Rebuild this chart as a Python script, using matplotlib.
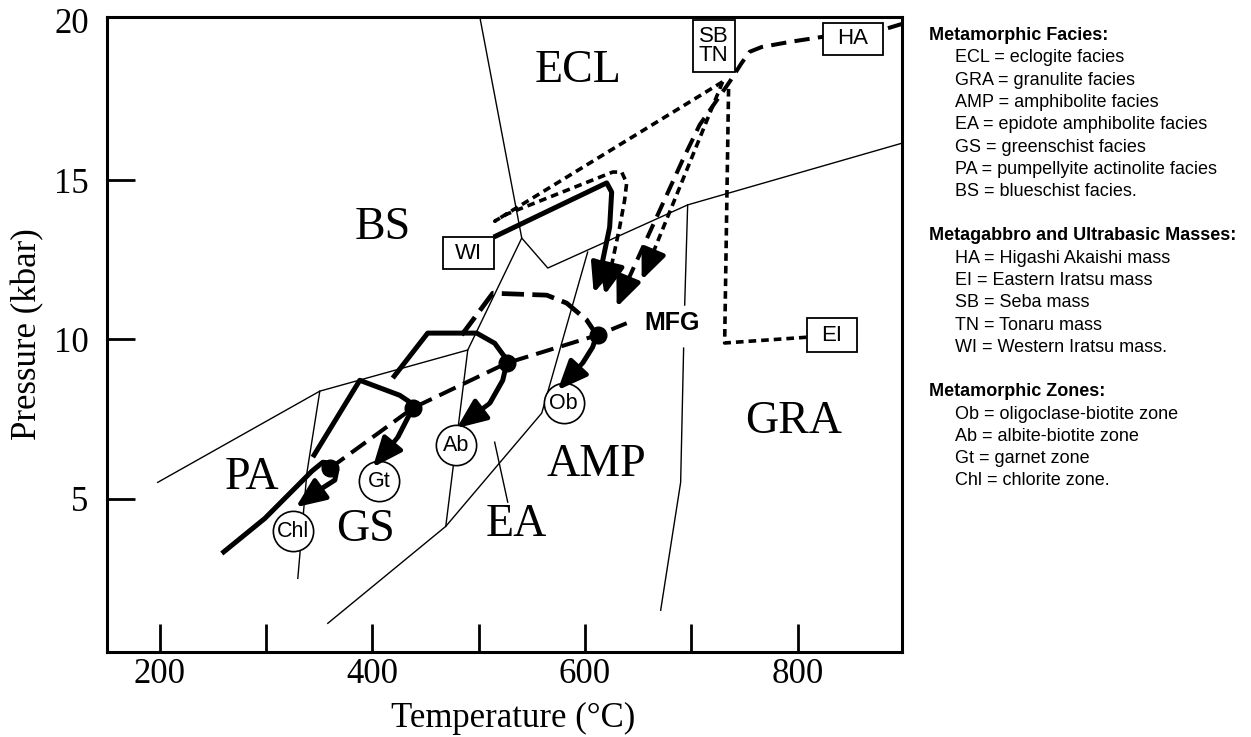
import matplotlib
matplotlib.use("Agg")
import matplotlib.pyplot as plt
from matplotlib.patches import Rectangle

plt.rcParams["lines.scale_dashes"] = False
SERIF = "Liberation Serif"
SANS = "Liberation Sans"

##### Facies boundaries (T in degC, P in kbar)
bnd_a_T = [198, 350.5, 489.7, 540.5, 501]
bnd_a_P = [5.52, 8.38, 9.67, 13.18, 20.12]
bnd_b_T = [540.5, 565, 696.6, 898.8]
bnd_b_P = [13.18, 12.24, 14.22, 16.16]
bnd_c_T = [350.5, 338.3, 329.8]
bnd_c_P = [8.38, 5.81, 2.51]
bnd_d_T = [489.7, 469, 358]
bnd_d_P = [9.67, 4.14, 1.10]
bnd_e_T = [602.5, 559.3, 469]
bnd_e_P = [12.74, 7.69, 4.14]
bnd_f1_T = [696.6, 693.8]
bnd_f1_P = [14.22, 11.08]
bnd_f2_T = [692.8, 690, 671.2]
bnd_f2_P = [9.73, 5.52, 1.51]
ea_ptr_T = [515, 527.3]
ea_ptr_P = [6.78, 4.90]

facies_names = ["ECL", "BS", "PA", "GS", "EA", "AMP", "GRA"]
facies_T = [593.1, 409.7, 286.5, 393.7, 535.8, 611, 796.3]
facies_P = [18.42, 13.49, 5.68, 4.02, 4.20, 6.06, 7.41]

##### P-T paths
chl_T = [258.3, 298.8, 331.7, 343, 353.3, 361.8, 366.5, 364.6, 352.4, 327.9]
chl_P = [3.29, 4.39, 5.49, 5.87, 6.15, 6.12, 5.90, 5.59, 5.33, 4.74]
gt_T = [343.9, 388.1, 425.7, 434.2, 438, 423.8, 400.3]
gt_P = [6.31, 8.72, 8.25, 8.06, 7.85, 6.93, 5.99]
ab_T = [419.1, 452, 498.1, 515.1, 524.5, 526.4, 522.6, 510.4, 479.3]
ab_P = [8.79, 10.20, 10.20, 9.88, 9.45, 9.26, 8.72, 8.00, 7.22]
ob_dash_T = [484, 513.2, 564, 582.8, 601.6, 611]
ob_dash_P = [10.14, 11.45, 11.39, 11.14, 10.61, 10.14]
ob_T = [611, 607.2, 597.8, 574.3]
ob_P = [10.14, 9.76, 9.26, 8.41]
wi_T = [514.1, 620.4, 625.1, 623.2, 613.8, 608.2]
wi_P = [13.21, 14.91, 14.62, 13.52, 12.02, 11.45]
sbtn_a_T = [729.5, 515.1, 526.4, 626.1, 634.5, 639.2, 637.3, 632.6, 624.1, 618.5]
sbtn_a_P = [18.08, 13.71, 13.93, 15.25, 15.25, 14.91, 14.37, 13.52, 12.18, 11.39]
sbtn_b_T = [729.5, 662.7, 653.3]
sbtn_b_P = [18.08, 12.61, 11.86]
ha_T = [898.8, 880, 823.6, 792.5, 766.2, 754.9, 747.4, 736.1, 707.9, 691.9, 639.2, 629.8]
ha_P = [19.90, 19.71, 19.49, 19.33, 19.17, 19.02, 18.67, 18.08, 16.73, 15.63, 11.77, 11.01]
ei_T = [808.5, 731.4, 735.1]
ei_P = [10.07, 9.89, 17.89]

mfg_T = [359.9, 438, 526.4, 612, 639.2]
mfg_P = [5.96, 7.85, 9.26, 10.14, 10.51]

zone_names = ["Chl", "Gt", "Ab", "Ob"]
zone_T = [325.6, 406, 478.9, 580]
zone_P = [3.99, 5.55, 6.68, 8.0]

# label, T0, T1, P0, P1
mass_boxes = [
    ("WI", 466.2, 514.1, 12.21, 13.21),
    ("HA", 823.6, 880.0, 18.92, 19.93),
    ("SB\nTN", 701.3, 740.8, 18.39, 20.02),
    ("EI", 808.5, 855.5, 9.60, 10.67),
]

x_ticks = [200, 300, 400, 500, 600, 700, 800]
x_tick_labels = ["200", "", "400", "", "600", "", "800"]
y_ticks = [5, 10, 15, 20]
y_tick_labels = ["5", "10", "15", "20"]

legend_sections = [
    ("Metamorphic Facies:", ["ECL = eclogite facies", "GRA = granulite facies",
                             "AMP = amphibolite facies", "EA = epidote amphibolite facies",
                             "GS = greenschist facies", "PA = pumpellyite actinolite facies",
                             "BS = blueschist facies."]),
    ("Metagabbro and Ultrabasic Masses:", ["HA = Higashi Akaishi mass", "EI = Eastern Iratsu mass",
                                           "SB = Seba mass", "TN = Tonaru mass",
                                           "WI = Western Iratsu mass."]),
    ("Metamorphic Zones:", ["Ob = oligoclase-biotite zone", "Ab = albite-biotite zone",
                            "Gt = garnet zone", "Chl = chlorite zone."]),
]


def add_arrow(T, P, lw=3.4):
    ax.annotate("", xy=(T[-1], P[-1]), xytext=(T[-2], P[-2]),
                arrowprops=dict(arrowstyle="-|>,head_length=0.9,head_width=0.38",
                                lw=lw, color="black", shrinkA=0, shrinkB=0,
                                mutation_scale=20),
                zorder=6)


fig = plt.figure(figsize=(12.51, 7.37), dpi=100)
ax = fig.add_axes([0.0853, 0.1153, 0.6355, 0.862])

### Facies boundaries
for bt, bp in [(bnd_a_T, bnd_a_P), (bnd_b_T, bnd_b_P), (bnd_c_T, bnd_c_P), (bnd_d_T, bnd_d_P),
               (bnd_e_T, bnd_e_P), (bnd_f1_T, bnd_f1_P), (bnd_f2_T, bnd_f2_P), (ea_ptr_T, ea_ptr_P)]:
    ax.plot(bt, bp, color="black", lw=1.0, zorder=2)

for name, t, p in zip(facies_names, facies_T, facies_P):
    ax.text(t, p, name, fontfamily=SERIF, fontsize=33, ha="center", va="center", zorder=3)

### Zone circles
ax.plot(zone_T, zone_P, "o", ms=29, mfc="white", mec="black", mew=1.2, ls="none", zorder=4)
for name, t, p in zip(zone_names, zone_T, zone_P):
    ax.text(t, p, name, fontfamily=SANS, fontsize=15.5, ha="center", va="center", zorder=5)

### Solid paths
for pt, pp in [(chl_T, chl_P), (gt_T, gt_P), (ab_T, ab_P), (ob_T, ob_P), (wi_T, wi_P)]:
    ax.plot(pt[:-1], pp[:-1], color="black", lw=3.6, solid_capstyle="butt", zorder=5)
    add_arrow(pt, pp)

### Dashed paths
ax.plot(ob_dash_T, ob_dash_P, color="black", lw=3.4, ls=(0, (16, 6)), zorder=5)
ax.plot(ha_T[:-1], ha_P[:-1], color="black", lw=2.9, ls=(0, (11, 6)), zorder=5)
add_arrow(ha_T, ha_P)
ax.plot(sbtn_a_T[:-1], sbtn_a_P[:-1], color="black", lw=2.6, ls=(0, (5.5, 3.6)), zorder=5)
add_arrow(sbtn_a_T, sbtn_a_P)
ax.plot(sbtn_b_T[:-1], sbtn_b_P[:-1], color="black", lw=2.6, ls=(0, (5.5, 3.6)), zorder=5)
add_arrow(sbtn_b_T, sbtn_b_P)
ax.plot(ei_T, ei_P, color="black", lw=2.6, ls=(0, (5.5, 3.6)), zorder=5)

### MFG
ax.plot(mfg_T, mfg_P, color="black", lw=2.9, ls=(0, (13, 6)), zorder=5)
ax.plot(mfg_T[:-1], mfg_P[:-1], "o", ms=12, color="black", ls="none", zorder=7)
ax.text(681.5, 10.51, "MFG", fontfamily=SANS, fontweight="bold", fontsize=18,
        ha="center", va="center", zorder=7)

### Mass boxes
for label, t0, t1, p0, p1 in mass_boxes:
    ax.add_patch(Rectangle((t0, p0), t1 - t0, p1 - p0, fc="white", ec="black", lw=1.3, zorder=8))
    ax.text((t0 + t1) / 2, (p0 + p1) / 2, label, fontfamily=SANS, fontsize=16,
            ha="center", va="center", linespacing=0.9, zorder=9)

### Axes styling
ax.set_xlim(150, 898)
ax.set_ylim(0.2, 20.12)
ax.set_xticks(x_ticks)
ax.set_xticklabels(x_tick_labels, fontfamily=SERIF, fontsize=25)
ax.set_yticks(y_ticks)
ax.set_yticklabels(y_tick_labels, fontfamily=SERIF, fontsize=25)
ax.tick_params(axis="both", direction="in", length=20, width=2)
ax.tick_params(axis="x", pad=4)
ax.tick_params(axis="y", pad=13)
ax.yaxis.get_major_ticks()[-1].tick1line.set_visible(False)
for sp in ax.spines.values():
    sp.set_linewidth(2.2)

ax.set_xlabel("Temperature (°C)", fontfamily=SERIF, fontsize=25)
ax.set_ylabel("Pressure (kbar)", fontfamily=SERIF, fontsize=25)
ax.xaxis.set_label_coords(0.511, -0.104)
ax.xaxis.label.set_va("center")
ax.yaxis.set_label_coords(-0.0996, 0.5)
ax.yaxis.label.set_va("center")

### Legend text block
W, H = 1251, 737
y = 35.5
for header, items in legend_sections:
    fig.text(929 / W, 1 - y / H, header, fontfamily=SANS, fontweight="bold", fontsize=13, va="center")
    for item in items:
        y += 22.3
        fig.text(955 / W, 1 - y / H, item, fontfamily=SANS, fontsize=13, va="center")
    y += 44.3

fig.savefig("out.png", dpi=100)
